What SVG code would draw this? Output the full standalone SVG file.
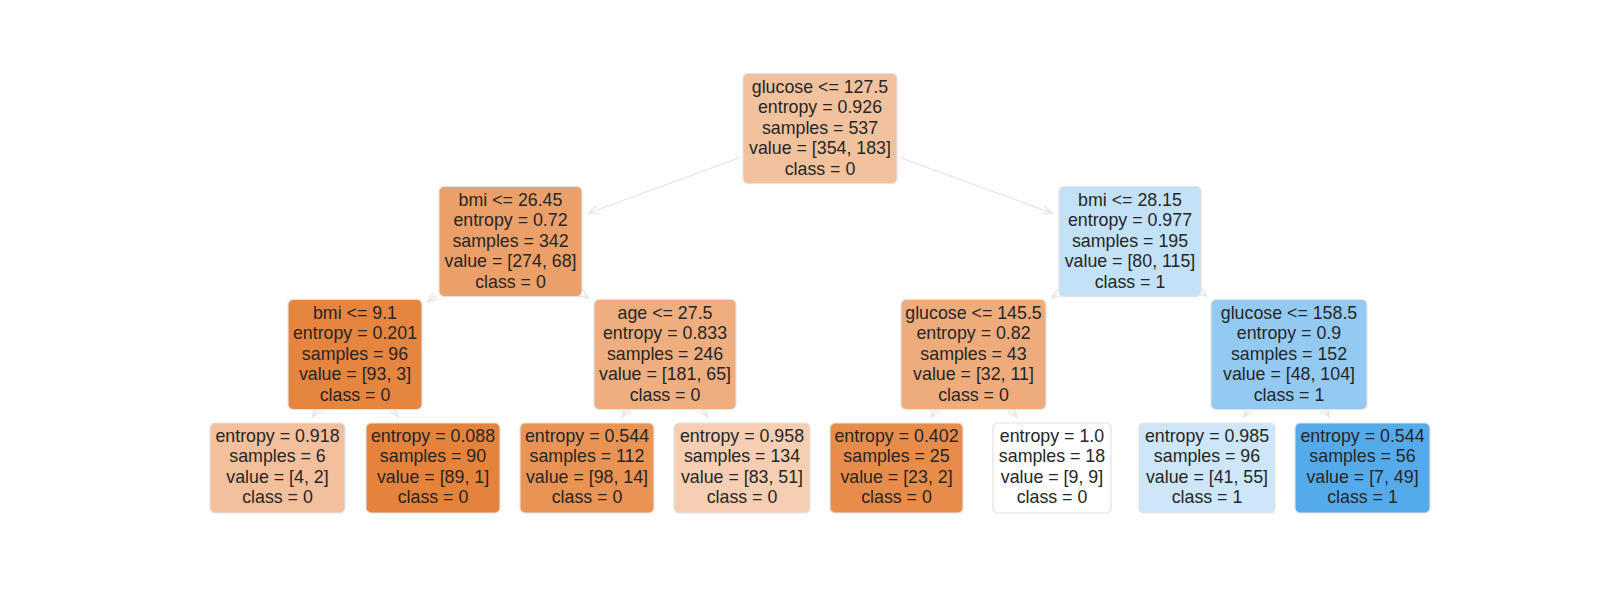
<svg xmlns="http://www.w3.org/2000/svg" width="1600" height="600" viewBox="0 0 1600 600">
<style>
.box{stroke:#e3e3e3;stroke-width:1.2}
.t{font-family:"Liberation Sans",Arial,sans-serif;font-size:17.8px;fill:#262626;text-anchor:middle}
.e{stroke:#e6e6e6;stroke-width:1.3;fill:none;marker-end:url(#ah)}
</style>
<defs>
<marker id="ah" markerUnits="userSpaceOnUse" markerWidth="14" markerHeight="12" refX="0" refY="0" viewBox="-12 -6 14 12" orient="auto" overflow="visible">
<path d="M-10,-4 L0,0 L-10,4" fill="none" stroke="#e6e6e6" stroke-width="1.3"/>
</marker>
</defs>
<rect width="1600" height="600" fill="#ffffff"/>
<g id="edges">
<path class="e" d="M740.2,157.6 L588.6,213.0"/>
<path class="e" d="M899.8,157.6 L1052.4,213.2"/>
<path class="e" d="M436.6,295.2 L427.7,301.7"/>
<path class="e" d="M584.4,295.6 L588.4,298.5"/>
<path class="e" d="M1056.6,294.5 L1051.7,298.0"/>
<path class="e" d="M1203.4,293.7 L1206.6,295.9"/>
<path class="e" d="M317.8,409 L312.2,417.2"/>
<path class="e" d="M392.4,409 L398.1,417.2"/>
<path class="e" d="M627.6,409 L621.9,417.2"/>
<path class="e" d="M702,409 L707.6,417.2"/>
<path class="e" d="M936.5,409 L930.9,417.2"/>
<path class="e" d="M1011.2,409 L1016.9,417.2"/>
<path class="e" d="M1249.6,409 L1243.6,417.3"/>
<path class="e" d="M1324.3,409 L1329.6,417.1"/>
</g>
<g id="n0"><rect class="box" x="743" y="73.5" width="154" height="110" rx="5" fill="#f2c29f"/>
<text class="t"><tspan x="820" y="92.5">glucose &lt;= 127.5</tspan><tspan x="820" y="113">entropy = 0.926</tspan><tspan x="820" y="133.5">samples = 537</tspan><tspan x="820" y="154">value = [354, 183]</tspan><tspan x="820" y="174.5">class = 0</tspan></text></g>
<g id="n1"><rect class="box" x="439" y="186.5" width="143" height="110" rx="5" fill="#eba06a"/>
<text class="t"><tspan x="510.5" y="205.5">bmi &lt;= 26.45</tspan><tspan x="510.5" y="226">entropy = 0.72</tspan><tspan x="510.5" y="246.5">samples = 342</tspan><tspan x="510.5" y="267">value = [274, 68]</tspan><tspan x="510.5" y="287.5">class = 0</tspan></text></g>
<g id="n2"><rect class="box" x="1059" y="186.5" width="142" height="110" rx="5" fill="#c3e1f7"/>
<text class="t"><tspan x="1130" y="205.5">bmi &lt;= 28.15</tspan><tspan x="1130" y="226">entropy = 0.977</tspan><tspan x="1130" y="246.5">samples = 195</tspan><tspan x="1130" y="267">value = [80, 115]</tspan><tspan x="1130" y="287.5">class = 1</tspan></text></g>
<g id="n3"><rect class="box" x="288" y="299.5" width="134" height="110" rx="5" fill="#e6853f"/>
<text class="t"><tspan x="355" y="318.5">bmi &lt;= 9.1</tspan><tspan x="355" y="339">entropy = 0.201</tspan><tspan x="355" y="359.5">samples = 96</tspan><tspan x="355" y="380">value = [93, 3]</tspan><tspan x="355" y="400.5">class = 0</tspan></text></g>
<g id="n4"><rect class="box" x="594" y="299.5" width="142" height="110" rx="5" fill="#eeae80"/>
<text class="t"><tspan x="665" y="318.5">age &lt;= 27.5</tspan><tspan x="665" y="339">entropy = 0.833</tspan><tspan x="665" y="359.5">samples = 246</tspan><tspan x="665" y="380">value = [181, 65]</tspan><tspan x="665" y="400.5">class = 0</tspan></text></g>
<g id="n5"><rect class="box" x="901" y="299.5" width="145" height="110" rx="5" fill="#eeac7d"/>
<text class="t"><tspan x="973.5" y="318.5">glucose &lt;= 145.5</tspan><tspan x="973.5" y="339">entropy = 0.82</tspan><tspan x="973.5" y="359.5">samples = 43</tspan><tspan x="973.5" y="380">value = [32, 11]</tspan><tspan x="973.5" y="400.5">class = 0</tspan></text></g>
<g id="n6"><rect class="box" x="1211" y="299.5" width="156" height="110" rx="5" fill="#94caf1"/>
<text class="t"><tspan x="1289" y="318.5">glucose &lt;= 158.5</tspan><tspan x="1289" y="339">entropy = 0.9</tspan><tspan x="1289" y="359.5">samples = 152</tspan><tspan x="1289" y="380">value = [48, 104]</tspan><tspan x="1289" y="400.5">class = 1</tspan></text></g>
<g id="n7"><rect class="box" x="210" y="423" width="135" height="90" rx="5" fill="#f2c09c"/>
<text class="t"><tspan x="277.5" y="441.8">entropy = 0.918</tspan><tspan x="277.5" y="462.3">samples = 6</tspan><tspan x="277.5" y="482.8">value = [4, 2]</tspan><tspan x="277.5" y="503.3">class = 0</tspan></text></g>
<g id="n8"><rect class="box" x="366" y="423" width="134" height="90" rx="5" fill="#e5823b"/>
<text class="t"><tspan x="433" y="441.8">entropy = 0.088</tspan><tspan x="433" y="462.3">samples = 90</tspan><tspan x="433" y="482.8">value = [89, 1]</tspan><tspan x="433" y="503.3">class = 0</tspan></text></g>
<g id="n9"><rect class="box" x="520" y="423" width="134" height="90" rx="5" fill="#e99355"/>
<text class="t"><tspan x="587" y="441.8">entropy = 0.544</tspan><tspan x="587" y="462.3">samples = 112</tspan><tspan x="587" y="482.8">value = [98, 14]</tspan><tspan x="587" y="503.3">class = 0</tspan></text></g>
<g id="n10"><rect class="box" x="674" y="423" width="136" height="90" rx="5" fill="#f5ceb3"/>
<text class="t"><tspan x="742" y="441.8">entropy = 0.958</tspan><tspan x="742" y="462.3">samples = 134</tspan><tspan x="742" y="482.8">value = [83, 51]</tspan><tspan x="742" y="503.3">class = 0</tspan></text></g>
<g id="n11"><rect class="box" x="830" y="423" width="133" height="90" rx="5" fill="#e78c4a"/>
<text class="t"><tspan x="896.5" y="441.8">entropy = 0.402</tspan><tspan x="896.5" y="462.3">samples = 25</tspan><tspan x="896.5" y="482.8">value = [23, 2]</tspan><tspan x="896.5" y="503.3">class = 0</tspan></text></g>
<g id="n12"><rect class="box" x="993" y="423" width="118" height="90" rx="5" fill="#ffffff"/>
<text class="t"><tspan x="1052" y="441.8">entropy = 1.0</tspan><tspan x="1052" y="462.3">samples = 18</tspan><tspan x="1052" y="482.8">value = [9, 9]</tspan><tspan x="1052" y="503.3">class = 0</tspan></text></g>
<g id="n13"><rect class="box" x="1139" y="423" width="136" height="90" rx="5" fill="#cde6f8"/>
<text class="t"><tspan x="1207" y="441.8">entropy = 0.985</tspan><tspan x="1207" y="462.3">samples = 96</tspan><tspan x="1207" y="482.8">value = [41, 55]</tspan><tspan x="1207" y="503.3">class = 1</tspan></text></g>
<g id="n14"><rect class="box" x="1295" y="423" width="135" height="90" rx="5" fill="#55abe9"/>
<text class="t"><tspan x="1362.5" y="441.8">entropy = 0.544</tspan><tspan x="1362.5" y="462.3">samples = 56</tspan><tspan x="1362.5" y="482.8">value = [7, 49]</tspan><tspan x="1362.5" y="503.3">class = 1</tspan></text></g>
</svg>
